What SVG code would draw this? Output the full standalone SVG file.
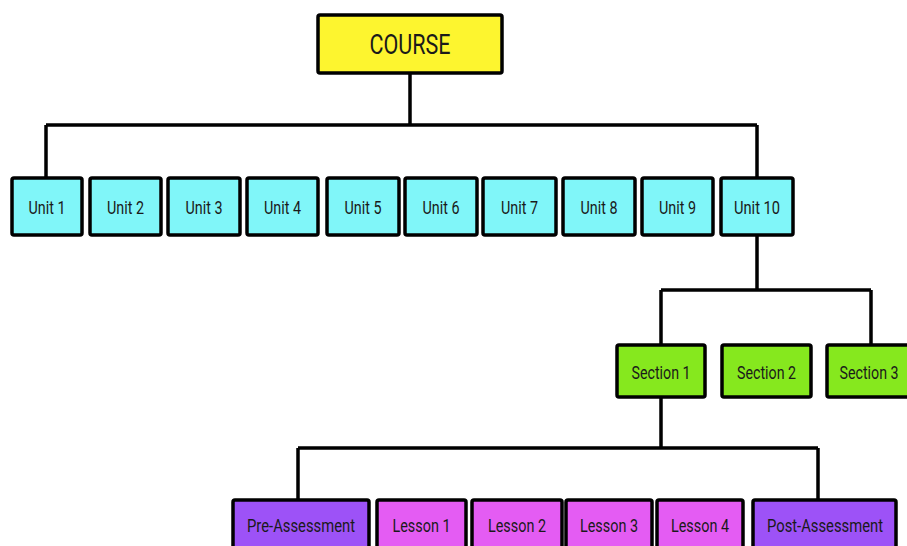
<svg xmlns="http://www.w3.org/2000/svg" width="907" height="546" viewBox="0 0 907 546">
<style>
.b{stroke:#000;stroke-width:3.5}
.c{fill:#80F6F9}.s{fill:#86E81E}.l{fill:#E45CF3}.p{fill:#9D52F7}.y{fill:#FDF52F}
text{font-family:Roboto,"Liberation Sans",sans-serif;font-size:19px;fill:#1a1a1a;text-anchor:middle;dominant-baseline:central}
.w{fill:none;stroke:#000;stroke-width:3.5}
</style>
<rect width="907" height="546" fill="#fff"/>
<g id="connectors" class="w">
<path d="M410 73V125M46 125H757M46 125V178M757 125V178"/>
<path d="M757 235V290M661 290H871M661 290V345M871 290V345"/>
<path d="M661 397V448M298 448H818M298 448V500M818 448V500"/>
</g>
<g id="course"><rect class="b y" x="318" y="15" width="184" height="58" rx="2"/><text x="410" y="45" style="font-size:27px" textLength="81" lengthAdjust="spacingAndGlyphs">COURSE</text></g>
<g id="unit1"><rect class="b c" x="12" y="178" width="70" height="57" rx="2"/><text x="47" y="207" textLength="37" lengthAdjust="spacingAndGlyphs">Unit 1</text></g>
<g id="unit2"><rect class="b c" x="90" y="178" width="71" height="57" rx="2"/><text x="125.5" y="207" textLength="37" lengthAdjust="spacingAndGlyphs">Unit 2</text></g>
<g id="unit3"><rect class="b c" x="168" y="178" width="72" height="57" rx="2"/><text x="204" y="207" textLength="37" lengthAdjust="spacingAndGlyphs">Unit 3</text></g>
<g id="unit4"><rect class="b c" x="247" y="178" width="71" height="57" rx="2"/><text x="282.5" y="207" textLength="37" lengthAdjust="spacingAndGlyphs">Unit 4</text></g>
<g id="unit5"><rect class="b c" x="327" y="178" width="72" height="57" rx="2"/><text x="363" y="207" textLength="37" lengthAdjust="spacingAndGlyphs">Unit 5</text></g>
<g id="unit6"><rect class="b c" x="405" y="178" width="72" height="57" rx="2"/><text x="441" y="207" textLength="37" lengthAdjust="spacingAndGlyphs">Unit 6</text></g>
<g id="unit7"><rect class="b c" x="483" y="178" width="73" height="57" rx="2"/><text x="519.5" y="207" textLength="37" lengthAdjust="spacingAndGlyphs">Unit 7</text></g>
<g id="unit8"><rect class="b c" x="563" y="178" width="72" height="57" rx="2"/><text x="599" y="207" textLength="37" lengthAdjust="spacingAndGlyphs">Unit 8</text></g>
<g id="unit9"><rect class="b c" x="642" y="178" width="71" height="57" rx="2"/><text x="677.5" y="207" textLength="37" lengthAdjust="spacingAndGlyphs">Unit 9</text></g>
<g id="unit10"><rect class="b c" x="721" y="178" width="72" height="57" rx="2"/><text x="757" y="207" textLength="46" lengthAdjust="spacingAndGlyphs">Unit 10</text></g>
<g id="section1"><rect class="b s" x="617" y="345" width="88" height="52" rx="2"/><text x="661" y="372.5" textLength="59" lengthAdjust="spacingAndGlyphs">Section 1</text></g>
<g id="section2"><rect class="b s" x="722" y="345" width="89" height="52" rx="2"/><text x="766.5" y="372.5" textLength="59" lengthAdjust="spacingAndGlyphs">Section 2</text></g>
<g id="section3"><rect class="b s" x="827" y="345" width="88" height="52" rx="2"/><text x="869" y="372.5" textLength="59" lengthAdjust="spacingAndGlyphs">Section 3</text></g>
<g id="pre"><rect class="b p" x="233" y="500" width="136" height="60" rx="2"/><text x="301" y="525.5" textLength="108" lengthAdjust="spacingAndGlyphs">Pre-Assessment</text></g>
<g id="lesson1"><rect class="b l" x="377" y="500" width="89" height="60" rx="2"/><text x="421.5" y="525.5" textLength="58" lengthAdjust="spacingAndGlyphs">Lesson 1</text></g>
<g id="lesson2"><rect class="b l" x="472" y="500" width="90" height="60" rx="2"/><text x="517" y="525.5" textLength="58" lengthAdjust="spacingAndGlyphs">Lesson 2</text></g>
<g id="lesson3"><rect class="b l" x="566" y="500" width="86" height="60" rx="2"/><text x="609" y="525.5" textLength="58" lengthAdjust="spacingAndGlyphs">Lesson 3</text></g>
<g id="lesson4"><rect class="b l" x="657" y="500" width="86" height="60" rx="2"/><text x="700" y="525.5" textLength="58" lengthAdjust="spacingAndGlyphs">Lesson 4</text></g>
<g id="post"><rect class="b p" x="753" y="500" width="143" height="60" rx="2"/><text x="825" y="525.5" textLength="116" lengthAdjust="spacingAndGlyphs">Post-Assessment</text></g>
</svg>
